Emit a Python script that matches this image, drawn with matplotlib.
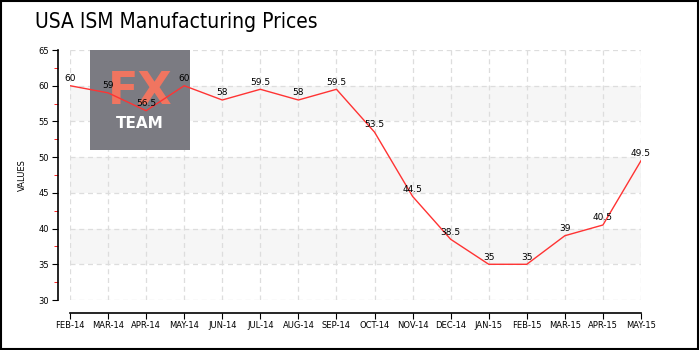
import matplotlib.pyplot as plt
from matplotlib.patches import Rectangle

months = ["FEB-14", "MAR-14", "APR-14", "MAY-14", "JUN-14", "JUL-14", "AUG-14", "SEP-14",
          "OCT-14", "NOV-14", "DEC-14", "JAN-15", "FEB-15", "MAR-15", "APR-15", "MAY-15"]
values = [60, 59, 56.5, 60, 58, 59.5, 58, 59.5, 53.5, 44.5, 38.5, 35, 35, 39, 40.5, 49.5]
labels = ["60", "59", "56.5", "60", "58", "59.5", "58", "59.5", "53.5", "44.5", "38.5",
          "35", "35", "39", "40.5", "49.5"]
y_ticks = [30, 35, 40, 45, 50, 55, 60, 65]
bands = [(35, 40), (45, 50), (55, 60)]

fig = plt.figure(figsize=(7, 3.5), dpi=100)
fig.patches.append(Rectangle((0.002, 0.004), 0.995, 0.993, transform=fig.transFigure,
                             fill=False, edgecolor="black", linewidth=1.5))

ax = fig.add_axes([70/700, 1 - 300/350, 571/700, 250/350])
x = list(range(len(months)))

for lo, hi in bands:
    ax.axhspan(lo, hi, color="#f6f6f6", zorder=0, lw=0)

ax.grid(True, color="#dddddd", linestyle=(0, (4, 3)), linewidth=0.9)
ax.set_axisbelow(True)

# watermark, above the grid but below the line
ax.add_patch(Rectangle((90/700, 1 - 150/350), 100/700, 100/350, transform=fig.transFigure,
                       facecolor="#7b7b82", edgecolor="none", zorder=2, clip_on=False))
ax.text(140/700, 1 - 92/350, "FX", color="#f07560", fontsize=32, fontweight="bold",
        ha="center", va="center", zorder=2.5, transform=fig.transFigure)
ax.text(140/700, 1 - 124/350, "TEAM", color="white", fontsize=11, fontweight="bold",
        ha="center", va="center", zorder=2.5, transform=fig.transFigure)

ax.plot(x, values, color="#ff3333", linewidth=1, zorder=3)
for xi, v, t in zip(x, values, labels):
    ax.annotate(t, (xi, v), xytext=(0, 2), textcoords="offset points",
                ha="center", va="bottom", fontsize=6.5, zorder=4)

ax.set_xlim(0, len(months) - 1)
ax.set_ylim(30, 65)
ax.set_xticks(x)
ax.set_xticklabels(months)
ax.set_yticks(y_ticks)
ax.set_yticklabels([str(v) for v in y_ticks])
ax.set_yticks([32.5, 37.5, 42.5, 47.5, 52.5, 57.5, 62.5], minor=True)
ax.tick_params(axis="y", which="minor", color="red", length=3)
ax.tick_params(axis="both", which="major", length=4, pad=2, labelsize=6)
ax.set_ylabel("VALUES", fontsize=6, labelpad=8)

for s in ["top", "right"]:
    ax.spines[s].set_visible(False)
ax.spines["left"].set_position(("outward", 9))
ax.spines["bottom"].set_position(("outward", 9))
ax.spines["left"].set_linewidth(1.2)
ax.spines["bottom"].set_linewidth(1.2)

fig.text(35/700, 1 - 22/350, "USA ISM Manufacturing Prices", fontsize=15, ha="left",
         va="center", fontstretch="condensed")

fig.savefig("out.png", dpi=100)
